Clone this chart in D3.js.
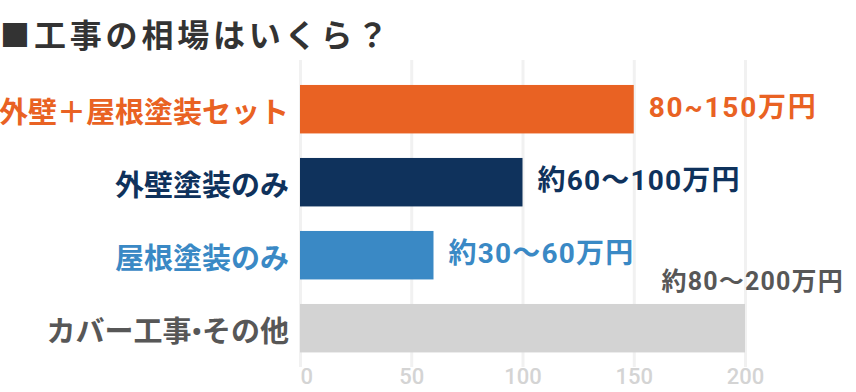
<!DOCTYPE html>
<html lang="ja">
<head>
<meta charset="utf-8">
<script src="https://cdn.jsdelivr.net/npm/d3@7"></script>
<style>
  html, body { margin: 0; padding: 0; background: #fff; }
  svg { display: block; font-family: "Roboto", "Noto Sans CJK JP", sans-serif; }
</style>
</head>
<body>
<div id="chart"></div>
<script>
// チャートのデータ
const titleText = '工事の相場はいくら？';
const categories = ['外壁＋屋根塗装セット', '外壁塗装のみ', '屋根塗装のみ', 'カバー工事•その他'];
const maxValues = [150, 100, 60, 200];   // 万円（上限）
const valueLabels = ['80~150万円', '約60〜100万円', '約30〜60万円', '約80〜200万円'];
const xTicks = [0, 50, 100, 150, 200];

// 色
const barColors = ['#e96223', '#0f325c', '#3a89c5', '#d3d3d3'];
const labelColors = ['#e96223', '#0f325c', '#3a89c5', '#575757'];

class CostChart {
  constructor(containerId) {
    this.containerId = containerId;
    this.width = 856;
    this.height = 392;
    this.plot = { left: 300, right: 745, top: 72.7, bottom: 364.7 };
  }

  /**
   * 比例尺
   */
  _createScales() {
    this.xScale = d3.scaleLinear()
      .domain([0, 200])
      .range([this.plot.left, this.plot.right]);

    this.yScale = d3.scaleBand()
      .domain(categories)
      .range([this.plot.top, this.plot.bottom])
      .paddingInner(0.336)
      .paddingOuter(0.168);
  }

  render() {
    this._createScales();

    this.svg = d3.select(`#${this.containerId}`)
      .append('svg')
      .attr('width', this.width)
      .attr('height', this.height);

    this._drawTitle();
    this._drawGrid();
    this._drawBars();
    this._drawLabels();
  }

  _drawTitle() {
    const g = this.svg.append('g').attr('class', 'title');
    g.append('text')
      .attr('x', 0)
      .attr('y', 33)
      .attr('dominant-baseline', 'central')
      .style('font-family', '"Noto Sans CJK JP"')
      .style('font-size', '30px')
      .attr('fill', '#333')
      .text('■');
    g.append('text')
      .attr('x', 34)
      .attr('y', 33)
      .attr('dominant-baseline', 'central')
      .style('font-family', '"Noto Sans CJK JP"')
      .style('font-size', '32px')
      .style('font-weight', 'bold')
      .style('letter-spacing', '3.8px')
      .attr('fill', '#333')
      .text(titleText);
  }

  _drawGrid() {
    const axis = d3.axisBottom(this.xScale)
      .tickValues(xTicks)
      .tickSize(-(367 - 60))
      .tickPadding(0);

    const g = this.svg.append('g')
      .attr('class', 'x-axis')
      .attr('transform', 'translate(0, 367)')
      .call(axis);

    g.select('.domain').remove();
    g.selectAll('.tick line')
      .attr('stroke', '#f1f1f1')
      .attr('stroke-width', 3);
    g.selectAll('.tick text')
      .attr('y', 17)
      .attr('dy', 0)
      .attr('fill', '#d4d4d4')
      .style('font-family', 'Roboto')
      .style('font-size', '22px')
      .style('font-weight', 500)
      .attr('text-anchor', (d, i) => i === 0 ? 'start' : 'middle');
  }

  _drawBars() {
    this.svg.append('g')
      .attr('class', 'bars')
      .selectAll('rect')
      .data(categories)
      .enter()
      .append('rect')
      .attr('x', this.xScale(0))
      .attr('y', d => this.yScale(d))
      .attr('width', (d, i) => this.xScale(maxValues[i]) - this.xScale(0))
      .attr('height', this.yScale.bandwidth())
      .attr('fill', (d, i) => barColors[i]);
  }

  _drawLabels() {
    const bw = this.yScale.bandwidth();

    // カテゴリ名
    this.svg.append('g')
      .attr('class', 'cat-labels')
      .selectAll('text')
      .data(categories)
      .enter()
      .append('text')
      .attr('x', 289)
      .attr('y', d => this.yScale(d) + bw / 2 + 4)
      .attr('text-anchor', 'end')
      .attr('dominant-baseline', 'central')
      .style('font-size', '29px')
      .style('font-weight', 'bold')
      .attr('fill', (d, i) => labelColors[i])
      .text(d => d);

    // 金額ラベル（最後の項目は棒の上に表示）
    this.svg.append('g')
      .attr('class', 'value-labels')
      .selectAll('text')
      .data(categories)
      .enter()
      .append('text')
      .attr('x', (d, i) => i === 3 ? 844 : this.xScale(maxValues[i]) + 15)
      .attr('y', (d, i) => i === 3 ? this.yScale(d) - 22 : this.yScale(d) + bw / 2 - 2)
      .attr('text-anchor', (d, i) => i === 3 ? 'end' : 'start')
      .attr('dominant-baseline', 'central')
      .style('font-size', (d, i) => i === 3 ? '25px' : '28px')
      .style('letter-spacing', (d, i) => i === 0 ? '1.8px' : '1.2px')
      .style('font-weight', 'bold')
      .attr('fill', (d, i) => labelColors[i])
      .text((d, i) => valueLabels[i]);
  }
}

const chart = new CostChart('chart');
chart.render();
</script>
</body>
</html>
